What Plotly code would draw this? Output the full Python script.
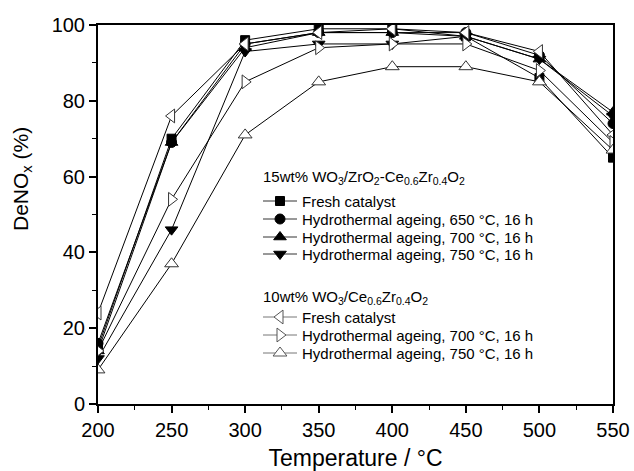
import plotly.graph_objects as go

temps = [200, 250, 300, 350, 400, 450, 500, 550]

w15_fresh = [15, 70, 96, 99, 99, 97, 86, 65]
w15_650 = [16, 69, 95, 98, 98, 98, 92, 74]
w15_700 = [14, 69, 94, 98, 98, 97, 91, 77]
w15_750 = [12, 46, 93, 95, 95, 97, 91, 76]

w10_fresh = [24, 76, 95, 98, 99, 98, 93, 71]
w10_700 = [14, 54, 85, 94, 95, 95, 88, 69]
w10_750 = [9, 37, 71, 85, 89, 89, 85, 67]

names_15 = ["Fresh catalyst", "Hydrothermal ageing, 650 °C, 16 h",
            "Hydrothermal ageing, 700 °C, 16 h", "Hydrothermal ageing, 750 °C, 16 h"]
names_10 = ["Fresh catalyst", "Hydrothermal ageing, 700 °C, 16 h",
            "Hydrothermal ageing, 750 °C, 16 h"]

title_15 = "15wt% WO<sub>3</sub>/ZrO<sub>2</sub>-Ce<sub>0.6</sub>Zr<sub>0.4</sub>O<sub>2</sub>"
title_10 = "10wt% WO<sub>3</sub>/Ce<sub>0.6</sub>Zr<sub>0.4</sub>O<sub>2</sub>"
x_title = "Temperature / °C"
y_title = "DeNO<sub>x</sub> (%)"

font = "Liberation Sans, Arial, sans-serif"

W, H = 634, 471
ML, MR, MT, MB = 98, 21, 25, 67
PW, PH = W - ML - MR, H - MT - MB

fig = go.Figure()

series15 = [(w15_fresh, "square", 9), (w15_650, "circle", 10),
            (w15_700, "triangle-up", 11), (w15_750, "triangle-down", 11)]
series10 = [(w10_fresh, "triangle-left", 12), (w10_700, "triangle-right", 12),
            (w10_750, "triangle-up", 12)]

for vals, sym, sz in series15:
    fig.add_trace(go.Scatter(
        x=temps, y=vals, mode="lines+markers", showlegend=False,
        line=dict(color="black", width=1),
        marker=dict(symbol=sym, size=sz, color="black", line=dict(color="black", width=1)),
    ))
for vals, sym, sz in series10:
    fig.add_trace(go.Scatter(
        x=temps, y=vals, mode="lines+markers", showlegend=False,
        line=dict(color="black", width=1),
        marker=dict(symbol=sym, size=sz, color="white", line=dict(color="#333333", width=1)),
    ))

# ---- legend (drawn on a pixel-scaled overlay axis) ----
sym_x0, sym_x1 = 263, 297       # sample line extent, page px
text_x = 300
title_x = 261
title_rows = [177, 297]
rows15 = [201, 219, 237, 254]
rows10 = [317, 335, 353]

def px_to_ax(xp, yp):
    return xp - ML, (H - MB) - yp

def add_sample(row, sym, sz, fill, edge, linecol):
    xa, ya = px_to_ax(sym_x0, row)
    xb, _ = px_to_ax(sym_x1, row)
    xm = (xa + xb) / 2
    fig.add_trace(go.Scatter(x=[xa, xb], y=[ya, ya], mode="lines", xaxis="x2", yaxis="y2",
                             showlegend=False, hoverinfo="skip", line=dict(color=linecol, width=1)))
    fig.add_trace(go.Scatter(x=[xm], y=[ya], mode="markers", xaxis="x2", yaxis="y2",
                             showlegend=False, hoverinfo="skip",
                             marker=dict(symbol=sym, size=sz, color=fill, line=dict(color=edge, width=1))))

def add_text(xp, yp, txt, size=15, angle=0, anchor="left"):
    fig.add_annotation(x=(xp - ML) / PW, y=((H - MB) - yp) / PH, xref="paper", yref="paper",
                       text=txt, showarrow=False, xanchor=anchor, yanchor="middle",
                       textangle=angle,
                       font=dict(size=size, family=font, color="black"))

for (vals, sym, sz), nm, row in zip(series15, names_15, rows15):
    add_sample(row, sym, sz, "black", "black", "#333333")
    add_text(text_x, row, nm)
for (vals, sym, sz), nm, row in zip(series10, names_10, rows10):
    add_sample(row, sym, sz, "white", "#555555", "#777777")
    add_text(text_x, row, nm)
add_text(title_x, title_rows[0], title_15)
add_text(title_x, title_rows[1], title_10)

# y-axis title placed as in the reference (above the axis centre)
add_text(22, 179, y_title, size=21, angle=-90, anchor="center")

fig.update_layout(
    width=W, height=H,
    margin=dict(l=ML, r=MR, t=MT, b=MB),
    paper_bgcolor="white", plot_bgcolor="white",
    font=dict(family=font, color="black"),
    showlegend=False,
    xaxis=dict(range=[200, 550], tickmode="linear", tick0=200, dtick=50,
               ticks="outside", ticklen=7, tickwidth=1.5, tickcolor="black",
               minor=dict(dtick=25, ticks="outside", ticklen=4, tickwidth=1, tickcolor="black"),
               showline=True, linewidth=2, linecolor="black", mirror=True,
               showgrid=False, zeroline=False, automargin=False,
               tickfont=dict(size=20, family=font),
               title=dict(text=x_title, font=dict(size=23, family=font), standoff=10)),
    yaxis=dict(range=[0, 100], tickmode="linear", tick0=0, dtick=20,
               ticks="outside", ticklen=7, tickwidth=1.5, tickcolor="black",
               minor=dict(dtick=10, ticks="outside", ticklen=4, tickwidth=1, tickcolor="black"),
               showline=True, linewidth=2, linecolor="black", mirror=True,
               showgrid=False, zeroline=False, automargin=False,
               tickfont=dict(size=20, family=font)),
    xaxis2=dict(range=[0, PW], overlaying="x", visible=False, fixedrange=True),
    yaxis2=dict(range=[0, PH], overlaying="y", visible=False, fixedrange=True),
)

fig.write_html("out.html")
